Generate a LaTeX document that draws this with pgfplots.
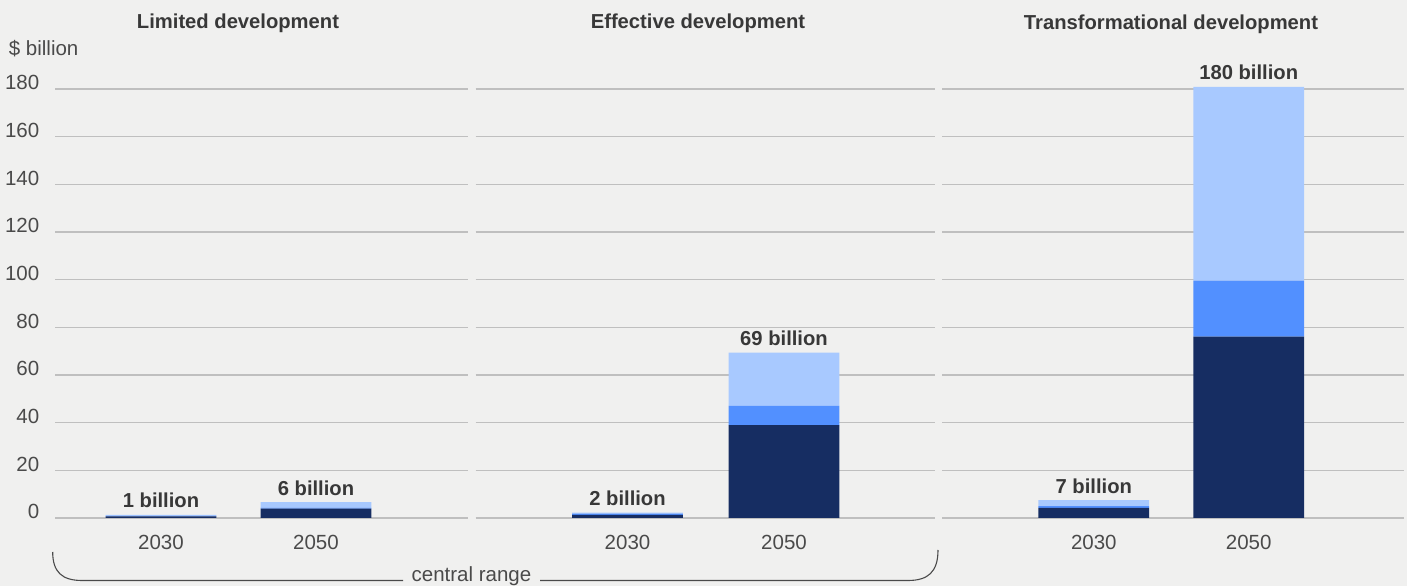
\documentclass[border=0pt]{standalone}
\usepackage{pgfplots}
\pgfplotsset{compat=1.18}
\usepackage{fontspec}
\setmainfont{Liberation Sans}
\definecolor{bg}{HTML}{F0F0EF}
\definecolor{darkc}{HTML}{162D62}
\definecolor{midc}{HTML}{5290FF}
\definecolor{lightc}{HTML}{A8C9FF}
\definecolor{gridc}{HTML}{BFBFBF}
\definecolor{txtc}{HTML}{383838}
\definecolor{tickc}{HTML}{4A4A4A}
\newcommand{\tfont}{\fontsize{20.5}{24}\selectfont}
\newcommand{\bfont}{\bfseries\fontsize{20.2}{24}\selectfont}
\pgfplotsset{
  panel/.style={
    x=1pt, y=2.3833pt, ymin=0, ymax=180, enlargelimits=false,
    ybar stacked, bar width=110.7pt, clip=false,
    axis line style={draw=none}, major tick length=0pt,
    ytick={0,20,...,180}, ymajorgrids,
    major grid style={draw=gridc, line width=1.2pt},
    xticklabel style={anchor=base, inner sep=0pt, yshift=-31pt, font=\tfont, text=tickc},
    anchor=south west,
  },
  lab/.style={fill=none, draw=none, nodes near coords, point meta=explicit symbolic,
    every node near coord/.append style={anchor=base, inner sep=0pt, yshift=7pt, font=\bfont, text=txtc}},
}
\begin{document}
\begin{tikzpicture}
\fill[bg] (0,0) rectangle (1407pt,586pt);
\useasboundingbox (0,0) rectangle (1407pt,586pt);

% Panel 1
\begin{axis}[panel, at={(55pt,68pt)}, xmin=55, xmax=467.7,
  xtick={161,316}, xticklabels={2030,2050},
  /pgf/number format/assume math mode=true,
  yticklabel style={anchor=base east, inner sep=0pt, xshift=-15.5pt, yshift=-1pt, font=\tfont, text=tickc}]
\addplot[fill=darkc, draw=none] coordinates {(161,0.7) (316,3.9)};
\addplot[fill=midc, draw=none] coordinates {(161,0.2) (316,0.4)};
\addplot[fill=lightc, draw=none] coordinates {(161,0.4) (316,2.4)};
\addplot[lab] coordinates {(161,0.01)[1 billion] (316,0.01)[6 billion]};
\end{axis}

% Panel 2
\begin{axis}[panel, at={(475.7pt,68pt)}, xmin=475.7, xmax=934.7,
  xtick={627.5,784}, xticklabels={2030,2050}, yticklabels={}]
\addplot[fill=darkc, draw=none] coordinates {(627.5,1.3) (784,39)};
\addplot[fill=midc, draw=none] coordinates {(627.5,0.5) (784,8)};
\addplot[fill=lightc, draw=none] coordinates {(627.5,0.5) (784,22.4)};
\addplot[lab] coordinates {(627.5,0.01)[2 billion] (784,0.01)[69 billion]};
\end{axis}

% Panel 3
\begin{axis}[panel, at={(942.3pt,68pt)}, xmin=942.3, xmax=1404,
  xtick={1093.8,1248.7}, xticklabels={2030,2050}, yticklabels={}]
\addplot[fill=darkc, draw=none] coordinates {(1093.8,4.3) (1248.7,76.1)};
\addplot[fill=midc, draw=none] coordinates {(1093.8,0.7) (1248.7,23.5)};
\addplot[fill=lightc, draw=none] coordinates {(1093.8,2.5) (1248.7,81.3)};
\addplot[lab] coordinates {(1093.8,0.01)[7 billion] (1248.7,0.01)[180 billion]};
\end{axis}

% titles
\node[anchor=base, inner sep=0pt, font=\bfont, text=txtc] at (238pt,557pt) {Limited development};
\node[anchor=base, inner sep=0pt, font=\bfont, text=txtc] at (698pt,557pt) {Effective development};
\node[anchor=base, inner sep=0pt, font=\bfont, text=txtc] at (1171pt,556pt) {Transformational development};
\node[anchor=base west, inner sep=0pt, font=\tfont, text=tickc] at (8.7pt,530pt) {\$ billion};

% central range bracket
\draw[line width=1.1pt, draw=tickc] (52.7pt,34pt) .. controls (52.7pt,14pt) and (62pt,5.5pt) .. (82pt,5.5pt) -- (403pt,5.5pt);
\draw[line width=1.1pt, draw=tickc] (540pt,5.5pt) -- (908pt,5.5pt) .. controls (928pt,5.5pt) and (938pt,14pt) .. (938pt,36pt);
\node[anchor=base, inner sep=0pt, font=\tfont, text=tickc] at (471.5pt,4.6pt) {central range};
\end{tikzpicture}
\end{document}
